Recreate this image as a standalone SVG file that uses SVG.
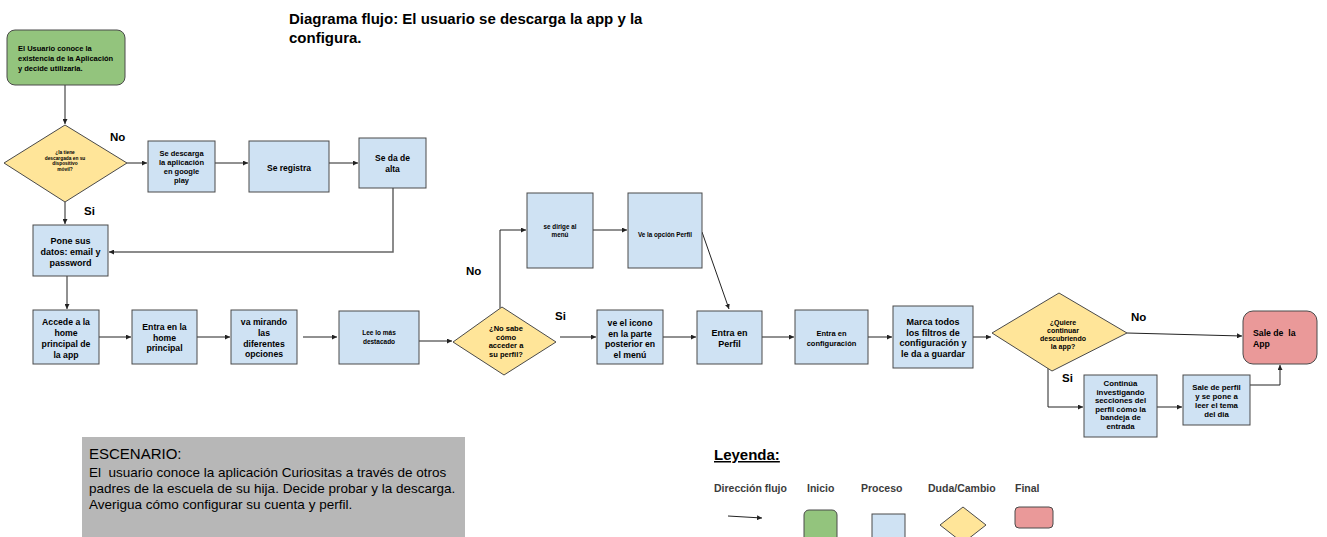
<svg xmlns="http://www.w3.org/2000/svg" width="1327" height="537" viewBox="0 0 1327 537">
  <defs>
    <style>
      text { font-family: "Liberation Sans", Arial, sans-serif; fill: #000; }
      .b { font-weight: bold; }
      .c { text-anchor: middle; font-weight: bold; }
      .start { fill: #93c47d; stroke: #4a4a4a; stroke-width: 1; }
      .proc { fill: #cfe2f3; stroke: #4a4a4a; stroke-width: 1; }
      .dec { fill: #ffe599; stroke: #4a4a4a; stroke-width: 1; }
      .end { fill: #ea9999; stroke: #4a4a4a; stroke-width: 1; }
      .conn path { fill: none; stroke: #222; stroke-width: 1; marker-end: url(#arr); }
      .lbl { font-weight: bold; font-size: 11.5px; }
      .leg { font-weight: bold; font-size: 10.5px; fill: #3c3c3c; }
    </style>
    <marker id="arr" viewBox="0 0 6 6" refX="6" refY="3" markerWidth="5" markerHeight="5" markerUnits="userSpaceOnUse" orient="auto">
      <path d="M0,0 L6,3 L0,6 z" fill="#222"/>
    </marker>
  </defs>

  <rect width="1327" height="537" fill="#fff"/>

  <!-- title -->
  <g id="title" class="b" font-size="15">
    <text x="289" y="24">Diagrama flujo: El usuario se descarga la app y la</text>
    <text x="289" y="43">configura.</text>
  </g>

  <!-- connectors -->
  <g id="connectors" class="conn">
    <path d="M65,85 V124"/>
    <path d="M127,163 H147"/>
    <path d="M215,163 H248"/>
    <path d="M329,163 H358"/>
    <path d="M393,188 V252 H109" style="stroke:#666;stroke-width:1.5"/>
    <path d="M65,202 V224"/>
    <path d="M67,276 V309"/>
    <path d="M99,337 H131"/>
    <path d="M197,337 H230"/>
    <path d="M303,337 H337"/>
    <path d="M419,341 H452"/>
    <path d="M500,308 V230 H526"/>
    <path d="M593,230 H627"/>
    <path d="M702,232 L729,309"/>
    <path d="M560,337 H596"/>
    <path d="M663,337 H696"/>
    <path d="M753,337 H794"/>
    <path d="M868,337 H892"/>
    <path d="M964,337 H991"/>
    <path d="M1127,333 L1242,336"/>
    <path d="M1048,366 V407 H1083"/>
    <path d="M1157,407 H1182"/>
    <path d="M1250,385 H1280 V365"/>
  </g>

  <!-- branch labels -->
  <g id="labels" class="lbl">
    <text x="110" y="141">No</text>
    <text x="84" y="215">Si</text>
    <text x="466" y="275">No</text>
    <text x="555" y="320">Si</text>
    <text x="1131" y="321">No</text>
    <text x="1062" y="382">Si</text>
  </g>

  <g id="n-start">
    <rect class="start" x="7" y="30" width="118" height="55" rx="8"/>
    <g class="b" font-size="7.5">
      <text x="18" y="51">El Usuario conoce la</text>
      <text x="18" y="61">existencia de la Aplicación</text>
      <text x="18" y="71">y decide utilizarla.</text>
    </g>
  </g>

  <g id="n-tiene">
    <polygon class="dec" points="4,163 65,125 127,163 65,202"/>
    <g class="c" font-size="4.8">
      <text x="65" y="154">¿la tiene</text>
      <text x="65" y="159.5">descargada en su</text>
      <text x="65" y="165">dispositivo</text>
      <text x="65" y="170.5">móvil?</text>
    </g>
  </g>

  <g id="n-descarga">
    <rect class="proc" x="148" y="141" width="67" height="51"/>
    <g class="c" font-size="7.5">
      <text x="181.5" y="155.7">Se descarga</text>
      <text x="181.5" y="164.7">la aplicación</text>
      <text x="181.5" y="173.7">en google</text>
      <text x="181.5" y="182.7">play</text>
    </g>
  </g>

  <g id="n-registra">
    <rect class="proc" x="249" y="141" width="80" height="51"/>
    <text class="c" font-size="8.5" x="289" y="171">Se registra</text>
  </g>

  <g id="n-alta">
    <rect class="proc" x="359" y="138" width="67" height="50"/>
    <g class="c" font-size="8.5">
      <text x="392.5" y="161">Se da de</text>
      <text x="392.5" y="172">alta</text>
    </g>
  </g>

  <g id="n-datos">
    <rect class="proc" x="33" y="225" width="75" height="51"/>
    <g class="c" font-size="9">
      <text x="70.5" y="244">Pone sus</text>
      <text x="70.5" y="255">datos: email y</text>
      <text x="70.5" y="265.5">password</text>
    </g>
  </g>

  <g id="n-accede">
    <rect class="proc" x="33" y="310" width="66" height="54"/>
    <g class="c" font-size="8.7">
      <text x="66" y="325">Accede a la</text>
      <text x="66" y="336">home</text>
      <text x="66" y="347">principal de</text>
      <text x="66" y="358">la app</text>
    </g>
  </g>

  <g id="n-home">
    <rect class="proc" x="132" y="310" width="65" height="54"/>
    <g class="c" font-size="8.7">
      <text x="164.5" y="330">Entra en la</text>
      <text x="164.5" y="340.5">home</text>
      <text x="164.5" y="351">principal</text>
    </g>
  </g>

  <g id="n-mirando">
    <rect class="proc" x="231" y="310" width="66" height="54"/>
    <g class="c" font-size="8.7">
      <text x="264" y="325">va mirando</text>
      <text x="264" y="336">las</text>
      <text x="264" y="346.5">diferentes</text>
      <text x="264" y="357">opciones</text>
    </g>
  </g>

  <g id="n-destacado">
    <rect class="proc" x="339" y="311" width="80" height="53"/>
    <g class="c" font-size="6.5">
      <text x="379" y="335">Lee lo más</text>
      <text x="379" y="344">destacado</text>
    </g>
  </g>

  <g id="n-perfil-q">
    <polygon class="dec" points="453,342 502,307 556,342 504,375"/>
    <g class="c" font-size="7.5">
      <text x="506" y="331">¿No sabe</text>
      <text x="506" y="339.5">cómo</text>
      <text x="506" y="348">acceder a</text>
      <text x="506" y="356.5">su perfil?</text>
    </g>
  </g>

  <g id="n-menu">
    <rect class="proc" x="527" y="193" width="66" height="75"/>
    <g class="c" font-size="6.3">
      <text x="560" y="229">se dirige al</text>
      <text x="560" y="236.5">menú</text>
    </g>
  </g>

  <g id="n-opcion">
    <rect class="proc" x="628" y="193" width="74" height="75"/>
    <text class="c" font-size="6.3" x="665" y="237">Ve la opción Perfil</text>
  </g>

  <g id="n-icono">
    <rect class="proc" x="597" y="310" width="66" height="54"/>
    <g class="c" font-size="8.7">
      <text x="630" y="326">ve el icono</text>
      <text x="630" y="336.5">en la parte</text>
      <text x="630" y="347">posterior en</text>
      <text x="630" y="357.5">el menú</text>
    </g>
  </g>

  <g id="n-entra-perfil">
    <rect class="proc" x="697" y="311" width="65" height="53"/>
    <g class="c" font-size="9">
      <text x="729.5" y="336">Entra en</text>
      <text x="729.5" y="346.5">Perfil</text>
    </g>
  </g>

  <g id="n-config">
    <rect class="proc" x="795" y="310" width="73" height="54"/>
    <g class="c" font-size="7.5">
      <text x="831.5" y="335.5">Entra en</text>
      <text x="831.5" y="345.5">configuración</text>
    </g>
  </g>

  <g id="n-filtros">
    <rect class="proc" x="893" y="306" width="80" height="62"/>
    <g class="c" font-size="9">
      <text x="933" y="325">Marca todos</text>
      <text x="933" y="335.5">los filtros de</text>
      <text x="933" y="346">configuración y</text>
      <text x="933" y="356.5">le da a guardar</text>
    </g>
  </g>

  <g id="n-continuar-q">
    <polygon class="dec" points="992,333 1059,293 1127,333 1052,371"/>
    <g class="c" font-size="7">
      <text x="1063" y="325">¿Quiere</text>
      <text x="1063" y="333">continuar</text>
      <text x="1063" y="341">descubriendo</text>
      <text x="1063" y="349">la app?</text>
    </g>
  </g>

  <g id="n-sale-app">
    <rect class="end" x="1243" y="311" width="74" height="53" rx="10"/>
    <g class="b" font-size="8.7">
      <text x="1253" y="336" xml:space="preserve">Sale de  la</text>
      <text x="1253" y="346.5">App</text>
    </g>
  </g>

  <g id="n-investiga">
    <rect class="proc" x="1084" y="375" width="73" height="62"/>
    <g class="c" font-size="7.8">
      <text x="1120.5" y="386">Continúa</text>
      <text x="1120.5" y="394.5">investigando</text>
      <text x="1120.5" y="403">secciones del</text>
      <text x="1120.5" y="411.5">perfil cómo la</text>
      <text x="1120.5" y="420">bandeja de</text>
      <text x="1120.5" y="428.5">entrada</text>
    </g>
  </g>

  <g id="n-sale-perfil">
    <rect class="proc" x="1183" y="375" width="67" height="50"/>
    <g class="c" font-size="7.8">
      <text x="1216.5" y="390">Sale de perfil</text>
      <text x="1216.5" y="399">y se pone a</text>
      <text x="1216.5" y="408">leer el tema</text>
      <text x="1216.5" y="417">del dia</text>
    </g>
  </g>

  <!-- scenario note -->
  <g id="escenario">
    <rect x="82" y="437" width="383" height="105" fill="#b7b7b7"/>
    <text x="89" y="459" font-size="15">ESCENARIO:</text>
    <g font-size="13.5">
      <text x="89" y="477" xml:space="preserve">El  usuario conoce la aplicación Curiositas a través de otros</text>
      <text x="89" y="493">padres de la escuela de su hija. Decide probar y la descarga.</text>
      <text x="89" y="509">Averigua cómo configurar su cuenta y perfil.</text>
    </g>
  </g>

  <!-- legend -->
  <g id="leyenda">
    <text class="b" x="714" y="460" font-size="15" text-decoration="underline">Leyenda:</text>
    <text class="leg" x="714" y="492">Dirección flujo</text>
    <text class="leg" x="807" y="492">Inicio</text>
    <text class="leg" x="861" y="492">Proceso</text>
    <text class="leg" x="928" y="492">Duda/Cambio</text>
    <text class="leg" x="1015" y="492">Final</text>
    <path d="M728,516 L762,518" fill="none" stroke="#222" stroke-width="1" marker-end="url(#arr)"/>
    <rect class="start" x="804" y="510" width="33" height="35" rx="5"/>
    <rect class="proc" x="872" y="514" width="33" height="30"/>
    <polygon class="dec" points="940,525 963,507 986,525 963,543"/>
    <rect class="end" x="1015" y="507" width="38" height="21" rx="4"/>
  </g>
</svg>
